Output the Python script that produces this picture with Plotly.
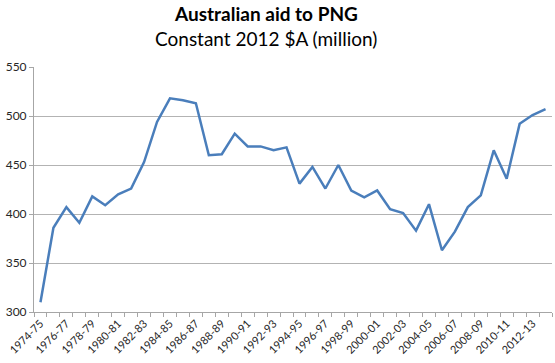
import plotly.graph_objects as go

years = [f"{y}-{str(y+1)[-2:]}" for y in range(1974, 2014)]
aid = [310, 386, 407, 391, 418, 409, 420, 426, 453, 494,
       518, 516, 513, 460, 461, 482, 469, 469, 465, 468,
       431, 448, 426, 450, 424, 417, 424, 405, 401, 383,
       410, 363, 382, 407, 419, 465, 436, 492, 501, 507]
tick_labels = [y if i % 2 == 0 else "" for i, y in enumerate(years)]
y_ticks = [300, 350, 400, 450, 500, 550]

FONT = "Lato, 'Open Sans', sans-serif"

fig = go.Figure()
fig.add_trace(go.Scatter(x=years, y=aid, mode="lines", cliponaxis=False,
                         line=dict(color="#4a7ebb", width=2.5)))

fig.update_layout(
    width=555, height=363,
    margin=dict(l=34, r=3, t=67, b=51, autoexpand=False),
    paper_bgcolor="white", plot_bgcolor="white",
    showlegend=False,
    font=dict(family=FONT, color="#262626"),
    annotations=[
        dict(text="<b>Australian aid to PNG</b>", xref="paper", yref="paper",
             x=0.448, y=1, yshift=54, xanchor="center", yanchor="middle",
             showarrow=False, font=dict(size=19, color="black", family=FONT)),
        dict(text="Constant 2012 $A (million)", xref="paper", yref="paper",
             x=0.448, y=1, yshift=29, xanchor="center", yanchor="middle",
             showarrow=False, font=dict(size=19, color="black", family=FONT)),
    ],
)
fig.update_xaxes(
    type="category", tickmode="array", tickvals=years, ticktext=tick_labels,
    tickson="boundaries", ticks="outside", ticklen=4, tickcolor="#a6a6a6",
    tickangle=-45, tickfont=dict(size=11, color="#262626"),
    showline=True, linecolor="#a6a6a6", linewidth=1, showgrid=False,
    range=[-0.5, 39.5], automargin=False,
)
fig.update_yaxes(
    range=[300, 550], tickvals=y_ticks, ticks="outside", ticklen=4,
    tickcolor="#a6a6a6", tickfont=dict(size=12, color="#262626"),
    showline=True, linecolor="#a6a6a6", linewidth=1, automargin=False,
    showgrid=True, gridcolor="#b3b3b3", gridwidth=1, zeroline=False,
)

fig.write_html("out.html", config={"displayModeBar": False},
               post_script="document.body.style.margin='0';document.body.style.overflow='hidden';")
